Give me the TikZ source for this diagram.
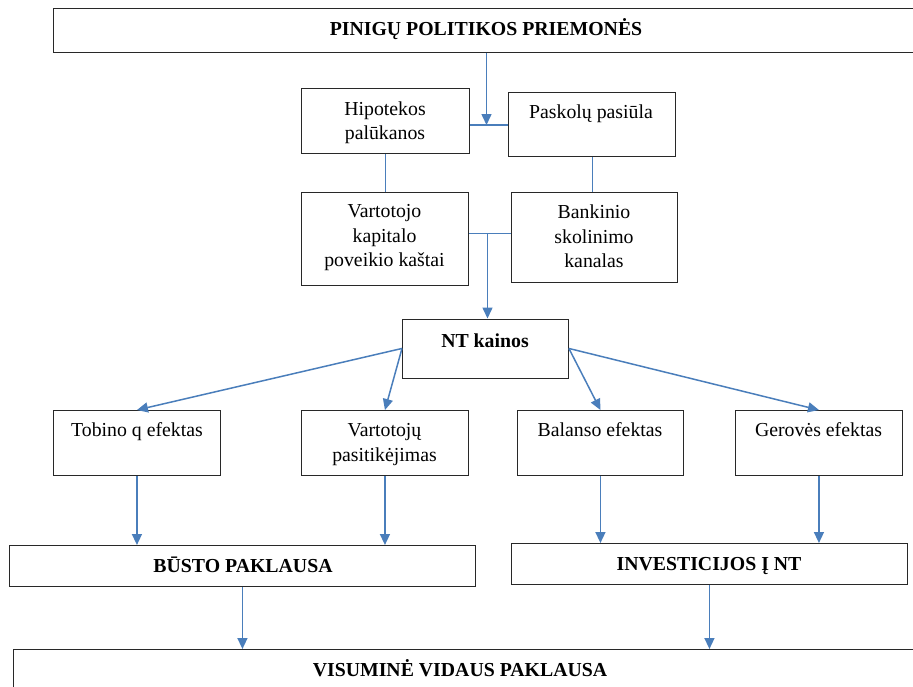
\documentclass[tikz,border=0pt]{standalone}
\usepackage{fontspec}
\setmainfont{Liberation Serif}
\usetikzlibrary{arrows.meta}
\definecolor{cblue}{RGB}{74,126,187}
\definecolor{edge}{RGB}{40,40,40}
\tikzset{
  box/.style={draw=edge, line width=0.9pt, inner sep=0pt, anchor=north west, fill=none},
  lbl/.style={inner sep=0pt, align=center, font=\fontsize{19.8}{24.5}\selectfont},
  blbl/.style={lbl, font=\fontsize{19.8}{24.5}\selectfont\bfseries},
  link/.style={draw=cblue, line width=0.8pt},
  thicklink/.style={draw=cblue, line width=1.8pt},
  arr/.style={draw=cblue, line width=1.5pt, -{Triangle[length=11pt,width=10pt]}},
}
\begin{document}
\begin{tikzpicture}[x=1pt, y=-1pt]
\useasboundingbox (0,0) rectangle (913,686);
% boxes
\node[box, minimum width=877pt, minimum height=44pt] (top) at (53,8) {};
\node[box, minimum width=168pt, minimum height=65pt] (hip) at (301,88) {};
\node[box, minimum width=167pt, minimum height=64pt] (pask) at (508,92) {};
\node[box, minimum width=167pt, minimum height=93pt] (vk) at (301,191.5) {};
\node[box, minimum width=166pt, minimum height=90pt] (bank) at (511,192) {};
\node[box, minimum width=166pt, minimum height=59pt] (nt) at (402,318.5) {};
\node[box, minimum width=167pt, minimum height=65pt] (tob) at (53,410) {};
\node[box, minimum width=167pt, minimum height=65pt] (vp) at (301,410) {};
\node[box, minimum width=166pt, minimum height=65pt] (bal) at (517,410) {};
\node[box, minimum width=167pt, minimum height=65pt] (ger) at (735,410) {};
\node[box, minimum width=466pt, minimum height=41pt] (bust) at (9,545) {};
\node[box, minimum width=396pt, minimum height=41pt] (inv) at (511,543) {};
\node[box, minimum width=917pt, minimum height=51pt] (vis) at (13,649) {};
% texts
\node[blbl, anchor=base] (ttop) at (486,35) {PINIGŲ POLITIKOS PRIEMONĖS};
\node[lbl, anchor=north] (thip) at (385,101.5) {Hipotekos\\palūkanos};
\node[lbl, anchor=base] (tpask) at (591,118) {Paskolų pasiūla};
\node[lbl, anchor=north] (tvk) at (384.5,204.5) {Vartotojo\\kapitalo\\poveikio kaštai};
\node[lbl, anchor=north] (tbank) at (594,204.8) {Bankinio\\skolinimo\\kanalas};
\node[blbl, anchor=base] (tnt) at (485,347) {NT kainos};
\node[lbl, anchor=base] (ttob) at (137,436.5) {Tobino q efektas};
\node[lbl, anchor=north] (tvp) at (384.5,423.2) {Vartotojų\\pasitikėjimas};
\node[lbl, anchor=base] (tbal) at (600,436.5) {Balanso efektas};
\node[lbl, anchor=base] (tger) at (818.5,436.5) {Gerovės efektas};
\node[blbl, anchor=base] (tbust) at (243,572) {BŪSTO PAKLAUSA};
\node[blbl, anchor=base] (tinv) at (709,570) {INVESTICIJOS Į NT};
\node[blbl, anchor=base] (tvis) at (460,676) {VISUMINĖ VIDAUS PAKLAUSA};
% connectors
\coordinate (j1) at (486.5,125);
\draw[thicklink] (hip.east |- j1) -- (pask.west |- j1);
\draw[arr] (top.south -| j1) -- (j1);
\draw[link] (vk.north) -- (vk.north |- hip.south);
\draw[link] (pask.south) -- (pask.south |- bank.north);
\coordinate (j2) at (487.5,233);
\draw[link] (vk.east |- j2) -- (bank.west |- j2);
\draw[arr] (j2) -- (nt.north -| j2);
\draw[arr] (nt.west) -- (tob.north);
\draw[arr] (nt.west) -- (vp.north);
\draw[arr] (nt.east) -- (bal.north);
\draw[arr] (nt.east) -- (ger.north);
\draw[arr] (tob.south) -- (tob.south |- bust.north);
\draw[arr] (vp.south) -- (vp.south |- bust.north);
\draw[arr] (bal.south) -- (bal.south |- inv.north);
\draw[arr] (ger.south) -- (ger.south |- inv.north);
\draw[arr] (bust.south) -- (bust.south |- vis.north);
\draw[arr] (inv.south) -- (inv.south |- vis.north);
\end{tikzpicture}
\end{document}
